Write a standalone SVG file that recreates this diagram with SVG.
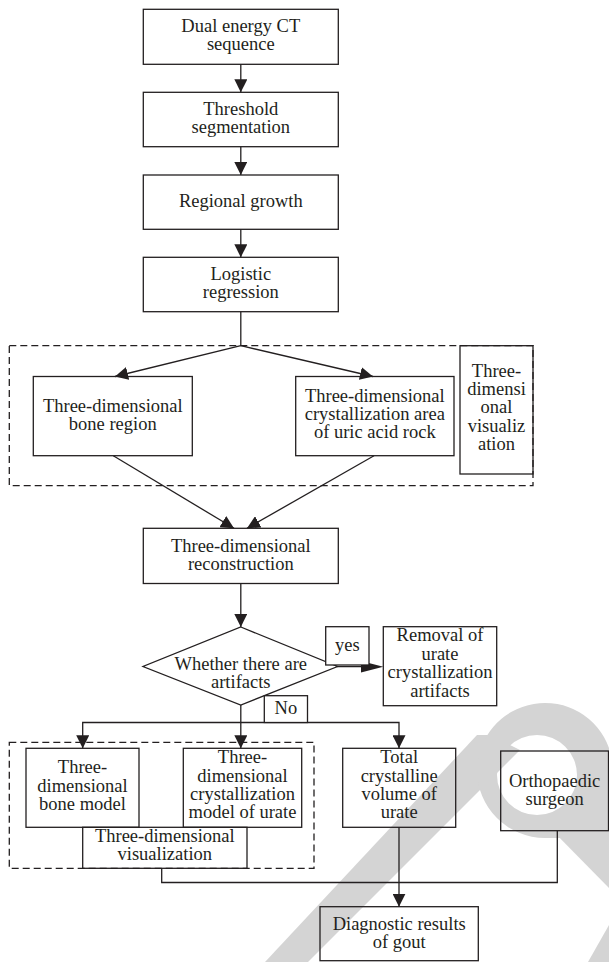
<svg xmlns="http://www.w3.org/2000/svg" width="609" height="962" viewBox="0 0 609 962">
<defs>
<style>
.b{fill:none;stroke:#231f20;stroke-width:1.3}
.w{fill:#fff;stroke:#231f20;stroke-width:1.3}
.d{fill:none;stroke:#231f20;stroke-width:1.3;stroke-dasharray:7 4}
.c{fill:none;stroke:#231f20;stroke-width:1.3}
.a{marker-end:url(#arr)}
text{font-family:"Liberation Serif","Times New Roman",serif;font-size:18.5px;fill:#231f20;text-anchor:middle}
.wm{fill:#d4d4d4;stroke:none}
</style>
<marker id="arr" markerUnits="userSpaceOnUse" markerWidth="13" markerHeight="13" refX="13" refY="6.5" orient="auto">
<path d="M0,0 L13,6.5 L0,13 z" fill="#231f20"/>
</marker>
</defs>
<rect width="609" height="962" fill="#fff"/>
<g id="watermark">
<polygon class="wm" points="265,962 308,962 520,750 490,735 477,735"/>
<path class="wm" fill-rule="evenodd" d="M477,770 A68,68 0 0 1 609,748 L609,838 L545,838 A68,68 0 0 1 477,770 Z M497,775 A40,40 0 1 0 577,775 A40,40 0 1 0 497,775 Z"/>
<polygon class="wm" points="548,826 609,826 609,888"/>
<polygon class="wm" points="588,962 609,962 609,925"/>
</g>
<g id="groups">
<rect class="d" x="9.3" y="345.7" width="523.7" height="140"/>
<rect class="d" x="9.3" y="742.3" width="304.7" height="126"/>
</g>
<g id="connectors">
<line class="c a" x1="240.8" y1="64.3" x2="240.8" y2="92.3"/>
<line class="c a" x1="240.8" y1="146.7" x2="240.8" y2="175"/>
<line class="c a" x1="240.8" y1="229.3" x2="240.8" y2="257.3"/>
<line class="c" x1="240.8" y1="311.7" x2="240.8" y2="345.7"/>
<line class="c a" x1="240.8" y1="345.7" x2="115" y2="376.5"/>
<line class="c a" x1="240.8" y1="345.7" x2="373" y2="376.5"/>
<line class="c a" x1="113.3" y1="455.7" x2="234" y2="528.3"/>
<line class="c a" x1="374" y1="455.7" x2="247" y2="528.3"/>
<line class="c a" x1="240.8" y1="583.5" x2="240.8" y2="627"/>
<line class="c" x1="337" y1="666.7" x2="370" y2="666.7"/>
<polygon points="361,661 383.3,666.7 361,672.4" fill="#231f20"/>
<line class="c a" x1="240.8" y1="705" x2="240.8" y2="748.3"/>
<path class="c a" d="M240.8,722.5 H82.7 V748.3"/>
<path class="c a" d="M240.8,722.5 H399 V748.3"/>
<path class="c" d="M161.7,868.3 V882.5 H557.3 V830.7"/>
<line class="c a" x1="399" y1="827.3" x2="399" y2="906.7"/>
</g>
<g id="n1"><rect class="b" x="143.3" y="9.3" width="195" height="55"/><text x="240.8" y="31.7">Dual energy CT</text><text x="240.8" y="50">sequence</text></g>
<g id="n2"><rect class="b" x="143.3" y="92.3" width="195" height="54.4"/><text x="240.8" y="115">Threshold</text><text x="240.8" y="133.3">segmentation</text></g>
<g id="n3"><rect class="b" x="143.3" y="175" width="195" height="54.3"/><text x="240.8" y="206.7">Regional growth</text></g>
<g id="n4"><rect class="b" x="143.3" y="257.3" width="195" height="54.4"/><text x="240.8" y="280">Logistic</text><text x="240.8" y="298.3">regression</text></g>
<g id="n5"><rect class="b" x="33.3" y="376.5" width="159" height="79.2"/><text x="112.8" y="411.7">Three-dimensional</text><text x="112.8" y="430">bone region</text></g>
<g id="n6"><rect class="b" x="295.7" y="376.5" width="158.3" height="79.2"/><text x="374.8" y="401.7">Three-dimensional</text><text x="374.8" y="420">crystallization area</text><text x="374.8" y="438.3">of uric acid rock</text></g>
<g id="n7"><rect class="b" x="460" y="345.7" width="73" height="128.3"/><text x="496.5" y="376.7">Three-</text><text x="496.5" y="395">dimensi</text><text x="496.5" y="413.3">onal</text><text x="496.5" y="431.7">visualiz</text><text x="496.5" y="450">ation</text></g>
<g id="n8"><rect class="b" x="143.3" y="528.3" width="195" height="55.2"/><text x="240.8" y="551.7">Three-dimensional</text><text x="240.8" y="570">reconstruction</text></g>
<g id="n9"><polygon class="b" points="240.8,627 337.5,666.5 240.8,705 143,666.5"/><text x="240.8" y="670">Whether there are</text><text x="240.8" y="688.3">artifacts</text></g>
<g id="n10"><rect class="w" x="325.7" y="626.7" width="43.3" height="38.3"/><text x="347.3" y="650.5">yes</text></g>
<g id="n11"><rect class="b" x="383.3" y="626.7" width="113.4" height="79"/><text x="440" y="641">Removal of</text><text x="440" y="659.5">urate</text><text x="440" y="678">crystallization</text><text x="440" y="696.5">artifacts</text></g>
<g id="n12"><rect class="w" x="264.3" y="695.7" width="43.2" height="26.8"/><text x="285.9" y="713.5">No</text></g>
<g id="n13"><rect class="b" x="26" y="748.3" width="113" height="79"/><text x="82.5" y="773.3">Three-</text><text x="82.5" y="791.7">dimensional</text><text x="82.5" y="810">bone model</text></g>
<g id="n14"><rect class="b" x="183.3" y="748.3" width="118.4" height="79"/><text x="242.5" y="763.3">Three-</text><text x="242.5" y="781.7">dimensional</text><text x="242.5" y="800">crystallization</text><text x="242.5" y="818.3">model of urate</text></g>
<g id="n15"><rect class="b" x="82.7" y="827.3" width="164.3" height="41"/><text x="164.8" y="841.7">Three-dimensional</text><text x="164.8" y="860">visualization</text></g>
<g id="n16"><rect class="b" x="342.7" y="748.3" width="113" height="79"/><text x="399.2" y="763.3">Total</text><text x="399.2" y="781.7">crystalline</text><text x="399.2" y="800">volume of</text><text x="399.2" y="818.3">urate</text></g>
<g id="n17"><rect class="b" x="500.7" y="751" width="107.8" height="79.7"/><text x="554.6" y="786.7">Orthopaedic</text><text x="554.6" y="805">surgeon</text></g>
<g id="n18"><rect class="b" x="320" y="906.7" width="158.3" height="54"/><text x="399.2" y="930">Diagnostic results</text><text x="399.2" y="948.3">of gout</text></g>
</svg>
